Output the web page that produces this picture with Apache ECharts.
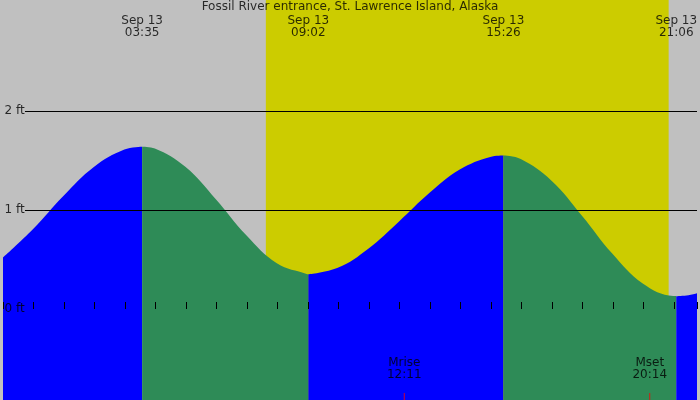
<!DOCTYPE html>
<html><head><meta charset="utf-8">
<script src="https://cdn.jsdelivr.net/npm/echarts@6/dist/echarts.min.js"></script>
<style>html,body{margin:0;padding:0}#c{width:700px;height:400px}</style>
</head><body><div id="c"></div>
<script>
// hours since midnight Sep 13, tide height in ft
const rising1 = [[-0.98,0.52],[0,0.805],[1,1.142],[2,1.435],[3,1.61],[3.583,1.64]];
const falling1 = [[3.583,1.64],[4,1.621],[5,1.436],[6,1.109],[7,0.744],[8,0.462],[9,0.352],[9.033,0.35]];
const rising2 = [[9.033,0.35],[10,0.416],[11,0.609],[12,0.882],[13,1.171],[14,1.408],[15,1.536],[15.433,1.55]];
const falling2 = [[15.433,1.55],[16,1.515],[17,1.299],[18,0.945],[19,0.56],[20,0.258],[21,0.131],[21.1,0.13]];
const rising3 = [[21.1,0.13],[21.5,0.14],[21.8,0.16]];
const extremes = [[3.583,'03:35'],[9.033,'09:02'],[15.433,'15:26'],[21.1,'21:06']];
const daylight = [7.64, 20.85];
const moonEvents = [[12.18,'Mrise','12:11'],[20.23,'Mset','20:14']];
const ftLevels = [2,1,0];
const title = 'Fossil River entrance, St. Lawrence Island, Alaska';

const XMIN=-0.98, XMAX=21.78, YMIN=-0.919, YMAX=3.121;
function area(d,color){return {type:'line',data:d,smooth:0.4,symbol:'none',z:3,
  lineStyle:{width:0},areaStyle:{color:color,opacity:1,origin:'start'}};}
const chart = echarts.init(document.getElementById('c'));
chart.setOption({
  animation:false,
  backgroundColor:'#c0c0c0',
  grid:{left:0,right:0,top:0,bottom:0},
  xAxis:{type:'value',min:XMIN,max:XMAX,interval:1,splitLine:{show:false},
    axisLine:{show:false},
    axisTick:{show:true,inside:true,length:7,lineStyle:{color:'#000'}},
    axisLabel:{inside:true,margin:9,color:'#000',fontSize:12,fontFamily:'DejaVu Sans',
      formatter:v=>{if(Math.abs(v-Math.round(v))>0.01)return '';let h=((Math.round(v)%12)+12)%12;if(h===0)h=12;return String(h).padStart(2,'0');}},
    z:10},
  yAxis:{type:'value',min:YMIN,max:YMAX,show:false},
  series:[
    {type:'line',data:[],z:1,
      markArea:{silent:true,itemStyle:{color:'#cccc00'},data:[[{xAxis:daylight[0]},{xAxis:daylight[1]}]]},
      markLine:{silent:true,symbol:'none',label:{show:false},lineStyle:{color:'#000',width:1,type:'solid'},
        data:ftLevels.filter(v=>v>0).map(v=>[{coord:[-0.26,v]},{coord:[XMAX,v]}])}},
    area(rising1,'#0000ff'),area(falling1,'#2e8b57'),area(rising2,'#0000ff'),
    area(falling2,'#2e8b57'),area(rising3,'#0000ff'),
    {type:'scatter',z:5,symbolSize:0,data:ftLevels.map(v=>[XMIN+0.05,v]),
      label:{show:true,position:'right',distance:0,color:'#000',fontSize:12,fontFamily:'DejaVu Sans',formatter:p=>p.value[1]+' ft'}},
    {type:'scatter',z:5,symbolSize:0,data:extremes.map(e=>[e[0],2.85,e[1]]),
      label:{show:true,position:'inside',color:'#000',fontSize:12,lineHeight:12,fontFamily:'DejaVu Sans',formatter:p=>'Sep 13\n'+p.value[2]}},
    {type:'scatter',z:5,symbolSize:0,data:moonEvents.map(e=>[e[0],-0.6,e[1],e[2]]),
      label:{show:true,position:'inside',color:'#000',fontSize:12,lineHeight:12,fontFamily:'DejaVu Sans',formatter:p=>p.value[2]+'\n'+p.value[3]}},
    {type:'scatter',z:6,symbol:'rect',symbolSize:[1,7],itemStyle:{color:'#ff0000'},data:moonEvents.map(e=>[e[0],YMIN+0.036])},
    {type:'scatter',z:5,symbolSize:0,data:[[10.4,3.05]],
      label:{show:true,position:'inside',color:'#000',fontSize:12,fontFamily:'DejaVu Sans',formatter:title}}
  ]
});
</script></body></html>
